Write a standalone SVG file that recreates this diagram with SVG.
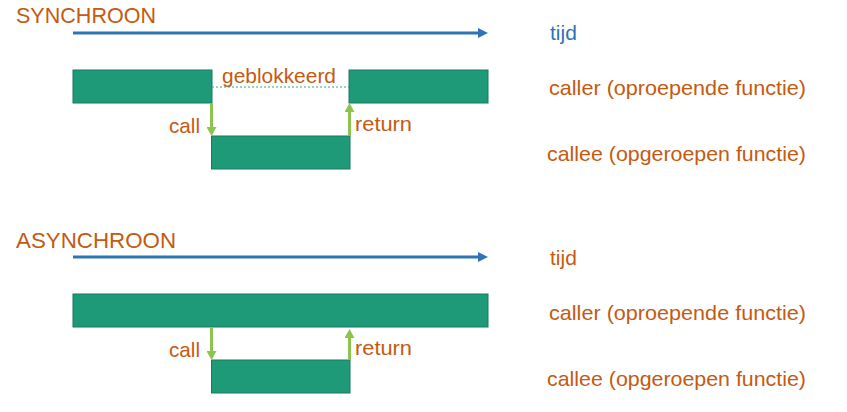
<svg xmlns="http://www.w3.org/2000/svg" width="847" height="412" viewBox="0 0 847 412">
  <defs>
    <style>
      .t { font-family: "Liberation Sans", Arial, sans-serif; fill: #C55A11; }
      .title { font-size: 22px; }
      .lbl { font-size: 21px; }
      .blue { fill: #2E75B6; }
      .bar { fill: #1E9A78; stroke: #18795E; stroke-width: 1; }
      .time { stroke: #2E75B6; stroke-width: 3; fill: none; }
      .ctl { stroke: #8DC44E; stroke-width: 3; fill: none; }
    </style>
    <marker id="bh" markerUnits="userSpaceOnUse" markerWidth="10" markerHeight="10" refX="0" refY="5" orient="auto" viewBox="0 0 10 10">
      <path d="M0,0 L10,5 L0,10 z" fill="#2E75B6"/>
    </marker>
    <marker id="gh" markerUnits="userSpaceOnUse" markerWidth="9" markerHeight="10" refX="0" refY="5" orient="auto" viewBox="0 0 9 10">
      <path d="M0,0 L9,5 L0,10 z" fill="#8DC44E"/>
    </marker>
  </defs>

  <!-- SYNCHROON section -->
  <text id="title-sync" class="t title" x="16" y="23" textLength="140" lengthAdjust="spacingAndGlyphs">SYNCHROON</text>
  <g id="sync-time">
    <text class="t lbl blue" x="550" y="40">tijd</text>
  </g>
  <g id="sync-caller-1">
    <rect class="bar" x="73" y="70" width="139" height="33"/>
  </g>
  <g id="sync-caller-2">
    <rect class="bar" x="349" y="70" width="139" height="33"/>
  </g>
  <g id="sync-callee">
    <rect class="bar" x="211.5" y="136" width="138.5" height="33"/>
  </g>
  <text class="t lbl" x="222" y="83" textLength="114" lengthAdjust="spacingAndGlyphs">geblokkeerd</text>
  <text class="t lbl" x="549" y="95" textLength="257" lengthAdjust="spacingAndGlyphs">caller (oproepende functie)</text>
  <text class="t lbl" x="547" y="161" textLength="259" lengthAdjust="spacingAndGlyphs">callee (opgeroepen functie)</text>
  <text class="t lbl" x="169" y="133" textLength="31" lengthAdjust="spacingAndGlyphs">call</text>
  <text class="t lbl" x="355" y="131" textLength="57" lengthAdjust="spacingAndGlyphs">return</text>

  <!-- ASYNCHROON section -->
  <text id="title-async" class="t title" x="16" y="248" textLength="160" lengthAdjust="spacingAndGlyphs">ASYNCHROON</text>
  <g id="async-time">
    <text class="t lbl" x="550" y="265">tijd</text>
  </g>
  <g id="async-caller">
    <rect class="bar" x="73" y="294" width="415" height="33"/>
  </g>
  <g id="async-callee">
    <rect class="bar" x="211.5" y="360" width="138.5" height="33"/>
  </g>
  <text class="t lbl" x="549" y="320" textLength="257" lengthAdjust="spacingAndGlyphs">caller (oproepende functie)</text>
  <text class="t lbl" x="547" y="386" textLength="259" lengthAdjust="spacingAndGlyphs">callee (opgeroepen functie)</text>
  <text class="t lbl" x="169" y="357" textLength="31" lengthAdjust="spacingAndGlyphs">call</text>
  <text class="t lbl" x="355" y="355" textLength="57" lengthAdjust="spacingAndGlyphs">return</text>

  <!-- connectors -->
  <g id="connectors">
    <line class="time" x1="73" y1="33" x2="478" y2="33" marker-end="url(#bh)"/>
    <line class="time" x1="73" y1="257" x2="478" y2="257" marker-end="url(#bh)"/>
    <line x1="212" y1="87" x2="349" y2="87" stroke="#2BAA85" stroke-width="1" stroke-dasharray="2,2"/>
    <line class="ctl" x1="211.5" y1="103" x2="211.5" y2="127" marker-end="url(#gh)"/>
    <line class="ctl" x1="349.5" y1="136" x2="349.5" y2="112" marker-end="url(#gh)"/>
    <line class="ctl" x1="211.5" y1="327" x2="211.5" y2="351" marker-end="url(#gh)"/>
    <line class="ctl" x1="349.5" y1="360" x2="349.5" y2="338" marker-end="url(#gh)"/>
  </g>
</svg>
